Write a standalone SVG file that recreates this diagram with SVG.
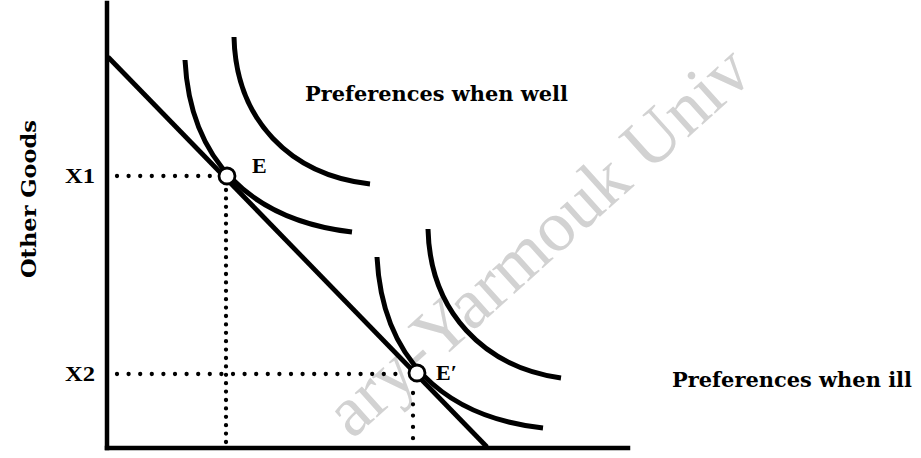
<svg xmlns="http://www.w3.org/2000/svg" width="921" height="458" viewBox="0 0 921 458">
<style>
.lbl{font-family:"DejaVu Serif","Liberation Serif",serif;font-weight:bold;fill:#000}
.pt{font-family:"Liberation Serif","DejaVu Serif",serif;font-weight:bold;fill:#000}
.ax{stroke:#000;stroke-width:4.5;fill:none;stroke-linecap:square}
.ic{stroke:#000;stroke-width:5;fill:none;stroke-linecap:butt}
.dh{stroke:#000;stroke-width:4.3;fill:none;stroke-linecap:round;stroke-dasharray:0 11.6}
.dv{stroke:#000;stroke-width:4.3;fill:none;stroke-linecap:round;stroke-dasharray:0 8.4}
.eq{fill:#fff;stroke:#000;stroke-width:2.8}
.wm{font-family:"Liberation Serif",serif;fill:#d2d2d2}
</style>
<text class="wm" font-size="72" transform="translate(352,440) rotate(-42)">ary-Yarmouk Univ</text>
<g id="axes">
<line class="ax" x1="107" y1="3" x2="107" y2="448"/>
<line class="ax" x1="107" y1="448" x2="628" y2="448"/>
</g>
<g id="y-label">
<text class="lbl" font-size="21" textLength="158" lengthAdjust="spacingAndGlyphs" transform="translate(36,278) rotate(-90)">Other Goods</text>
<text class="pt" font-size="22" x="65" y="183" textLength="30" lengthAdjust="spacingAndGlyphs">X1</text>
<text class="pt" font-size="22" x="65" y="381" textLength="30" lengthAdjust="spacingAndGlyphs">X2</text>
</g>
<g id="connectors">
<line id="budget" x1="108" y1="57" x2="487" y2="447" stroke="#000" stroke-width="4.8"/>
<line class="dh" x1="117" y1="176" x2="210" y2="176"/>
<line class="dv" x1="226" y1="190" x2="226" y2="447"/>
<line class="dh" x1="117" y1="374" x2="406" y2="374"/>
<line class="dv" x1="413" y1="393" x2="413" y2="440" style="stroke-dasharray:0 11.3"/>
</g>
<g id="well">
<path class="ic" d="M185,60 C190,160 250,220 352,232"/>
<path class="ic" d="M234,37 C236,120 290,175 370,184"/>
<text class="lbl" font-size="20" x="305" y="101" textLength="263" lengthAdjust="spacingAndGlyphs">Preferences when well</text>
</g>
<g id="ill">
<path class="ic" d="M377,257 C382,357 442,417 543,428"/>
<path class="ic" d="M428,229 C430,312 484,367 561,378"/>
<text class="lbl" font-size="20" x="672" y="387" textLength="240" lengthAdjust="spacingAndGlyphs">Preferences when ill</text>
</g>
<g id="E">
<circle class="eq" cx="227" cy="176" r="8"/>
<text class="pt" font-size="22" x="252" y="173">E</text>
</g>
<g id="E-prime">
<circle class="eq" cx="417" cy="373" r="8"/>
<text class="pt" font-size="22" x="436" y="380">E′</text>
</g>
</svg>
